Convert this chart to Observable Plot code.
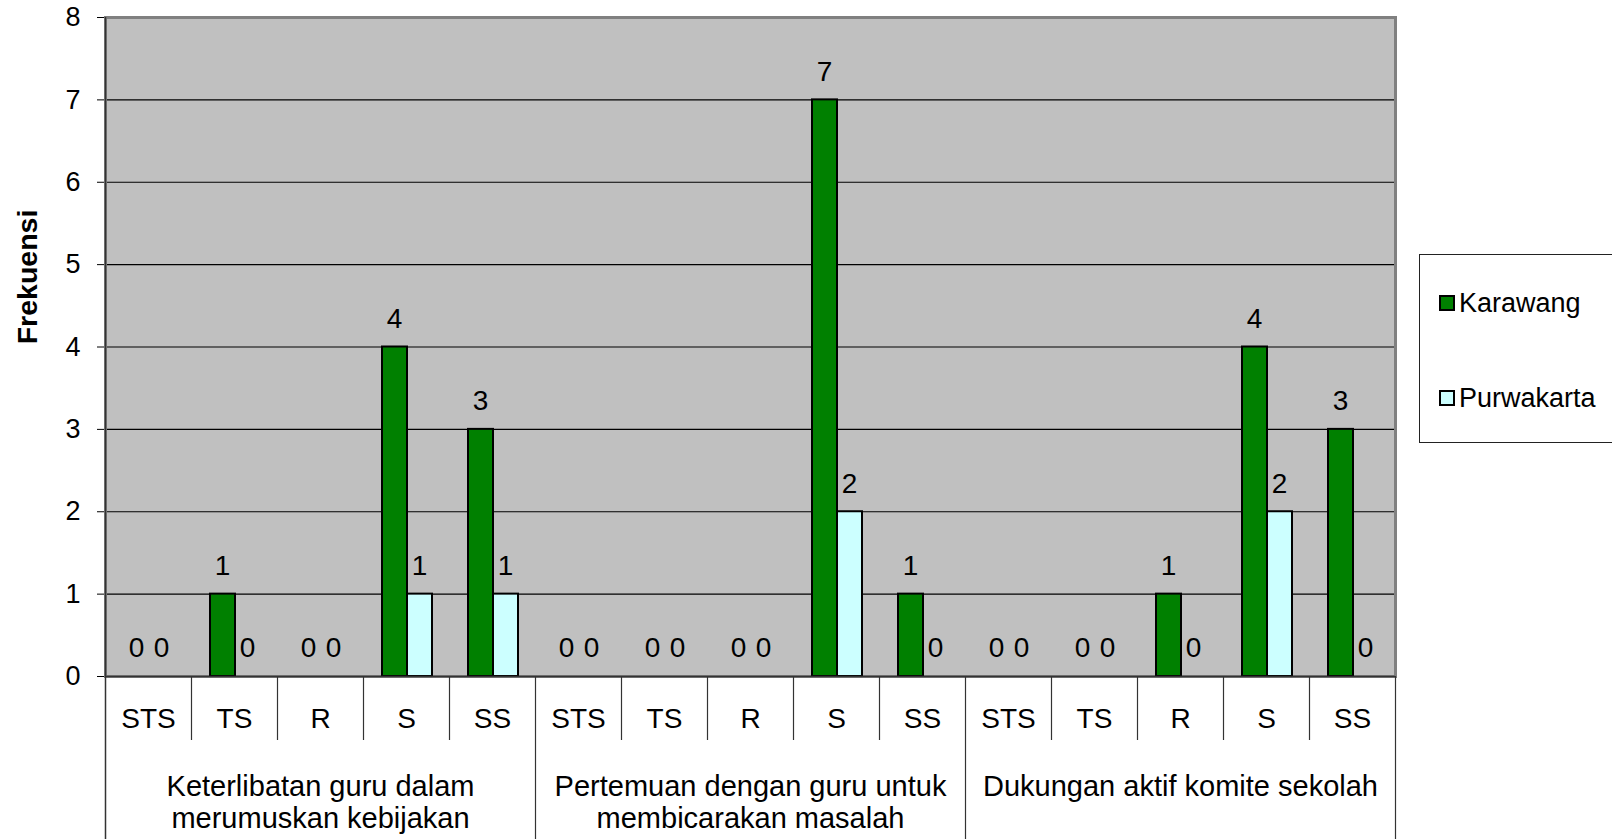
<!DOCTYPE html>
<html><head><meta charset="utf-8">
<script src="https://cdn.jsdelivr.net/npm/d3@7"></script>
<script src="https://cdn.jsdelivr.net/npm/@observablehq/plot@0.6"></script>
<style>
html,body{margin:0;padding:0;background:#fff;overflow:hidden;}
#wrap{position:relative;width:1612px;height:839px;overflow:hidden;}
#legend{position:absolute;left:1419px;top:254px;width:240px;height:187px;border:1px solid #222;background:#fff;font-family:"Liberation Sans",Arial,sans-serif;font-size:27px;color:#000;}
.item{position:absolute;left:19px;display:flex;align-items:center;height:30px;}
.sw{width:12px;height:12px;border:2px solid #000;margin-right:4px;}
</style></head><body><div id="wrap"></div>
<script>
const groups = ["Keterlibatan guru dalam\nmerumuskan kebijakan", "Pertemuan dengan guru untuk\nmembicarakan masalah", "Dukungan aktif komite sekolah"];
const responses = ["STS", "TS", "R", "S", "SS"];
const series = ["Karawang", "Purwakarta"];
const colors = ["#008000", "#CCFFFF"];
const karawang = [0, 1, 0, 4, 3, 0, 0, 0, 7, 1, 0, 0, 1, 4, 3];
const purwakarta = [0, 0, 0, 1, 1, 0, 0, 0, 2, 0, 0, 0, 0, 2, 0];
const yTicks = [0, 1, 2, 3, 4, 5, 6, 7, 8];
const yTitle = "Frekuensi";

const cats = [];
groups.forEach((g, gi) => responses.forEach((r, ri) => cats.push({key: gi + "|" + r, group: gi, resp: r, idx: gi * 5 + ri})));
const keys = cats.map(d => d.key);
const rows = [];
cats.forEach((c, i) => {
  rows.push({key: c.key, series: series[0], value: karawang[i]});
  rows.push({key: c.key, series: series[1], value: purwakarta[i]});
});
const groupRows = groups.map((g, gi) => ({key: gi + "|" + responses[2], label: g}));
const shortDiv = cats.filter(c => c.idx % 5 !== 0);
const longDiv = cats.filter(c => c.idx % 5 === 0 && c.idx > 0);
const firstKey = [keys[0]];
const lastKey = [keys[keys.length - 1]];

const half = 43;
const plot = Plot.plot({
  width: 1612, height: 839,
  marginLeft: 105, marginRight: 217, marginTop: 17, marginBottom: 163,
  style: {fontFamily: "'Liberation Sans', Arial, sans-serif", fontSize: "27px", color: "#000", background: "#fff"},
  x: {type: "band", domain: keys, padding: 0, axis: null},
  y: {domain: [0, 8], ticks: yTicks, tickSize: 8, tickPadding: 17, label: null, tickFormat: d => String(d)},
  marks: [
    Plot.frame({fill: "#C0C0C0"}),
    Plot.ruleY(yTicks.filter(v => v > 0 && v < 8), {stroke: "#000", strokeWidth: 1.2}),
    Plot.frame({stroke: "#808080", strokeWidth: 3}),
    Plot.barY(rows.filter(d => d.series === series[0] && d.value > 0), {x: "key", y: "value", fill: colors[0], stroke: "#000", strokeWidth: 2, insetLeft: 19, insetRight: 42}),
    Plot.barY(rows.filter(d => d.series === series[1] && d.value > 0), {x: "key", y: "value", fill: colors[1], stroke: "#000", strokeWidth: 2, insetLeft: 44, insetRight: 17}),
    Plot.text(rows.filter(d => d.series === series[0]), {x: "key", y: "value", text: d => String(d.value), dx: -12, dy: -28, fontSize: 28}),
    Plot.text(rows.filter(d => d.series === series[1]), {x: "key", y: "value", text: d => String(d.value), dx: 13, dy: -28, fontSize: 28}),
    Plot.ruleY([0], {stroke: "#333", strokeWidth: 1.5}),
    Plot.ruleX(firstKey, {x: d => d, dx: -half, stroke: "#333", strokeWidth: 1.5, insetBottom: -163}),
    Plot.ruleX(shortDiv, {x: "key", dx: -half, stroke: "#333", strokeWidth: 1.2, insetTop: 659, insetBottom: -64}),
    Plot.ruleX(longDiv, {x: "key", dx: -half, stroke: "#333", strokeWidth: 1.2, insetTop: 659, insetBottom: -163}),
    Plot.ruleX(lastKey, {x: d => d, dx: half, stroke: "#333", strokeWidth: 1.2, insetTop: 659, insetBottom: -163}),
    Plot.text(cats, {x: "key", text: "resp", frameAnchor: "bottom", dy: 51, fontSize: 28}),
    Plot.text(groupRows, {x: "key", text: "label", frameAnchor: "bottom", lineAnchor: "top", dy: 96, lineHeight: 1.12, fontSize: 29}),
    Plot.text([yTitle], {text: d => d, frameAnchor: "left", textAnchor: "middle", dx: -78, dy: -70, rotate: -90, fontWeight: "bold", fontSize: 28.5})
  ]
});
const wrap = document.getElementById("wrap");
wrap.appendChild(plot);
const leg = document.createElement("div");
leg.id = "legend";
series.forEach((s, i) => {
  const it = document.createElement("div");
  it.className = "item";
  it.style.top = (i === 0 ? 33 : 128) + "px";
  const sw = document.createElement("div");
  sw.className = "sw";
  sw.style.background = colors[i];
  const t = document.createElement("span");
  t.textContent = s;
  it.appendChild(sw); it.appendChild(t);
  leg.appendChild(it);
});
wrap.appendChild(leg);
</script></body></html>
